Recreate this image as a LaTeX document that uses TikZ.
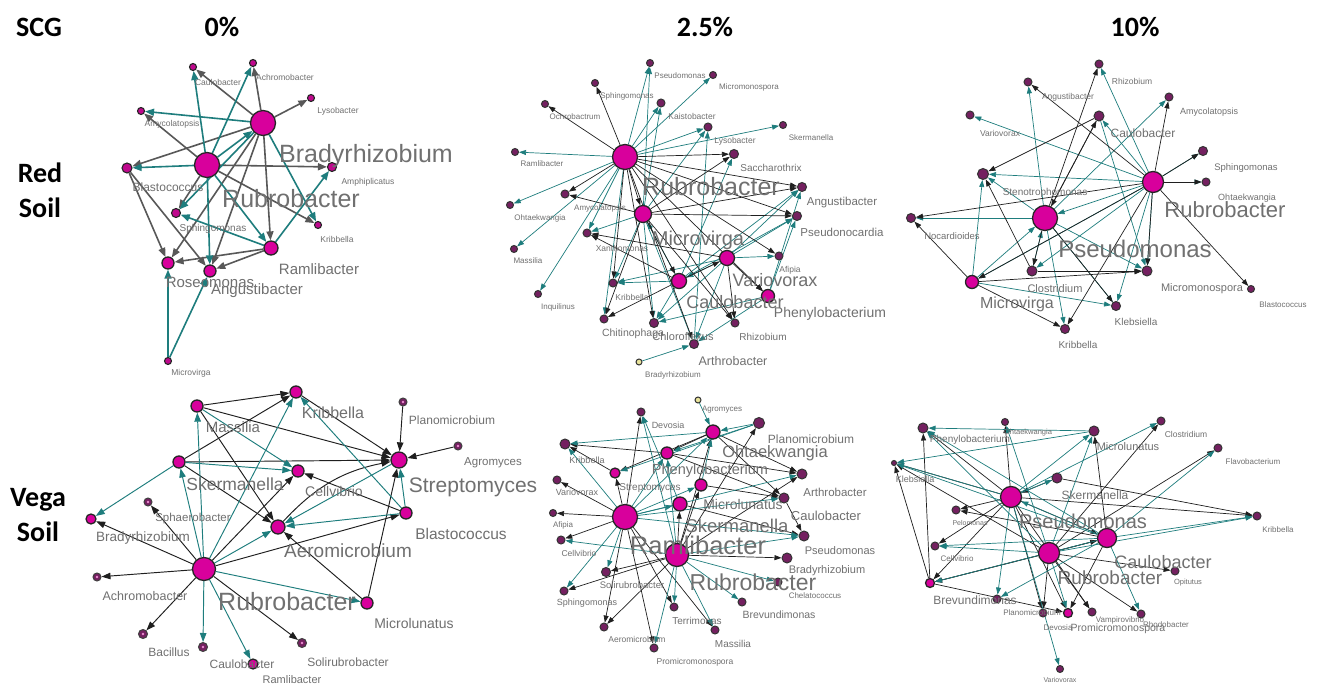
\documentclass[tikz,border=0pt]{standalone}
\usepackage{fontspec}
\setmainfont{Liberation Sans}
\newfontfamily\hdrfont{Carlito}
\usetikzlibrary{arrows.meta}
\definecolor{mag}{HTML}{D8009C}
\definecolor{plum}{HTML}{742060}
\definecolor{tealc}{HTML}{1E7D7D}
\definecolor{grayc}{HTML}{585858}
\definecolor{labc}{HTML}{707070}
\definecolor{yel}{HTML}{E8E39A}
\pgfdeclarelayer{bg}
\pgfdeclarelayer{edges}
\pgfsetlayers{bg,edges,main}
\tikzset{
 hub/.style={circle,fill=mag,draw=black!85,line width=1.3pt,inner sep=0pt},
 sm/.style={circle,fill=plum,draw=black!80,line width=1pt,inner sep=0pt},
 psm/.style={circle,fill=mag!75!plum,draw=black!85,line width=1.1pt,inner sep=0pt},
 ysm/.style={circle,fill=yel,draw=black!80,line width=1pt,inner sep=0pt},
 ring/.style={circle,fill=plum,draw=black!75,line width=1pt,inner sep=0pt,
   path picture={\fill[mag!45!white] (path picture bounding box.center) circle (1.3pt);}},
 lab/.style={text=labc,inner sep=0pt},
 hdr/.style={inner sep=0pt,font=\hdrfont\bfseries\fontsize{28}{35}\selectfont,text=black},
 eblk/.style={draw=black!88,line width=0.7pt,-{Triangle[length=7pt,width=5pt]}},
 etel/.style={draw=tealc,line width=0.7pt,-{Triangle[length=7pt,width=5pt]}},
 dblk/.style={draw=black!88,line width=0.95pt,-{Triangle[length=9pt,width=6.5pt]}},
 dtel/.style={draw=tealc,line width=0.95pt,-{Triangle[length=9pt,width=6.5pt]}},
 agray/.style={draw=grayc,line width=1.6pt,-{Triangle[length=9pt,width=7pt]}},
 ateal/.style={draw=tealc,line width=1.6pt,-{Triangle[length=9pt,width=7pt]}},
}
\newcommand{\mynd}[5]{\node[#4,minimum size=#5] (#1) at (#2,#3) {};}
\newcommand{\mylab}[5]{\node[lab,font=\fontsize{#4}{#4}\selectfont] (#1) at (#2,#3) {#5};}
\begin{document}
\begin{tikzpicture}[x=1pt,y=-1pt]
\begin{pgfonlayer}{bg}
\fill[white] (0,0) rectangle (1317,684);
\end{pgfonlayer}
\useasboundingbox (0,0) rectangle (1317,684);
% headers
\node[hdr] (hSCG) at (39,27) {SCG};
\node[hdr] (h0) at (222,27) {0\%};
\node[hdr] (h25) at (705,27) {2.5\%};
\node[hdr] (h10) at (1135,27) {10\%};
\node[hdr,align=center] (hRed) at (40,190) {Red\\Soil};
\node[hdr,align=center] (hVega) at (38,515) {Vega\\Soil};

% ================= Panel 1: Red 0%
\mynd{aR}{207}{165}{hub}{25pt}
\mynd{aB}{263}{123}{hub}{25pt}
\mynd{aCau}{193}{67}{psm}{7pt}
\mynd{aAch}{253}{63}{psm}{7pt}
\mynd{aLys}{311}{98}{psm}{7pt}
\mynd{aAmy}{141}{111}{psm}{7pt}
\mynd{aBla}{127}{168}{psm}{10pt}
\mynd{aAmp}{332}{167}{psm}{9pt}
\mynd{aSph}{176}{213}{psm}{9pt}
\mynd{aKri}{318}{225}{psm}{7pt}
\mynd{aRam}{271}{248}{hub}{14pt}
\mynd{aRos}{168}{263}{hub}{12pt}
\mynd{aAng}{210}{271}{hub}{12pt}
\mynd{aMic}{168}{361}{psm}{7pt}
\begin{pgfonlayer}{edges}
\foreach \s/\t in {aB/aCau,aB/aAch,aB/aLys,aB/aBla,aB/aRos,aB/aAng,aB/aRam,aR/aAmy,aR/aAmp,aR/aKri,aR/aSph,aBla/aRos,aBla/aAng,aRam/aRos,aRam/aAng}
  \draw[agray] (\s) -- (\t);
\foreach \s/\t in {aB/aAmy,aB/aSph,aB/aKri,aR/aB,aR/aCau,aR/aAch,aR/aBla,aR/aRam,aR/aAng,aRam/aAmp,aRam/aSph,aMic/aRos,aMic/aAng}
  \draw[ateal] (\s) -- (\t);
\end{pgfonlayer}
\mylab{laCau}{218}{82}{8.5}{Caulobacter}
\mylab{laAch}{285}{77}{8.5}{Achromobacter}
\mylab{laLys}{338}{111}{8.5}{Lysobacter}
\mylab{laAmy}{172}{124}{8.5}{Amycolatopsis}
\mylab{laB}{366}{156}{25}{Bradyrhizobium}
\mylab{laAmp}{368}{182}{8.5}{Amphiplicatus}
\mylab{laBla}{168}{187}{12}{Blastococcus}
\mylab{laR}{291}{199}{25}{Rubrobacter}
\mylab{laSph}{213}{229}{10}{Sphingomonas}
\mylab{laKri}{337}{239}{8.5}{Kribbella}
\mylab{laRam}{319}{269}{15}{Ramlibacter}
\mylab{laRos}{210}{282}{15}{Roseomonas}
\mylab{laAng}{257}{291}{15}{Angustibacter}
\mylab{laMic}{191}{373}{8.5}{Microvirga}

% ================= Panel 2: Red 2.5%
\mynd{bR}{625}{157}{hub}{25pt}
\mynd{bMv}{643}{214}{hub}{17pt}
\mynd{bVa}{727}{258}{hub}{15pt}
\mynd{bCa}{679}{281}{hub}{15pt}
\mynd{bPh}{768}{296}{hub}{13pt}
\mynd{bPse}{650}{63}{sm}{7pt}
\mynd{bMm}{713}{75}{sm}{7pt}
\mynd{bSph}{595}{83}{sm}{7pt}
\mynd{bKai}{661}{103}{sm}{8pt}
\mynd{bOch}{545}{104}{sm}{7pt}
\mynd{bLys}{708}{127}{sm}{8pt}
\mynd{bSke}{783}{125}{sm}{7pt}
\mynd{bRam}{515}{152}{sm}{7pt}
\mynd{bSac}{734}{154}{sm}{9pt}
\mynd{bAmy}{565}{194}{sm}{8pt}
\mynd{bAng}{802}{187}{sm}{9pt}
\mynd{bOht}{510}{205}{sm}{7pt}
\mynd{bPsn}{797}{216}{sm}{9pt}
\mynd{bXan}{587}{233}{sm}{8pt}
\mynd{bMas}{514}{249}{sm}{7pt}
\mynd{bAfi}{779}{256}{sm}{8pt}
\mynd{bKri}{613}{283}{sm}{8pt}
\mynd{bInq}{538}{294}{sm}{7pt}
\mynd{bChi}{604}{319}{sm}{8pt}
\mynd{bChl}{654}{323}{sm}{9pt}
\mynd{bRhi}{735}{323}{sm}{8pt}
\mynd{bArt}{694}{344}{sm}{9pt}
\mynd{bBra}{639}{362}{ysm}{6pt}
\begin{pgfonlayer}{edges}
\foreach \s/\t in {bR/bPse,bR/bMm,bR/bKai,bR/bLys,bR/bSke,bR/bRam,bR/bOht,bR/bMas,bR/bInq,bR/bXan,bR/bChi,bMv/bKai,bMv/bLys,bMv/bXan,bMv/bKri,bMv/bArt,bMv/bChl,bMv/bPse,bCa/bSac,bCa/bAng,bCa/bPsn,bCa/bKri,bCa/bChl,bCa/bMv,bVa/bAng,bVa/bPsn,bVa/bAfi,bVa/bKri,bVa/bChl,bVa/bArt,bVa/bCa,bPh/bAng,bPh/bPsn,bPh/bArt,bPh/bChl,bBra/bArt,bArt/bLys}
  \draw[etel] (\s) -- (\t);
\foreach \s/\t in {bR/bSph,bR/bOch,bR/bSac,bR/bAng,bR/bPsn,bR/bAfi,bR/bAmy,bR/bMv,bR/bKri,bR/bChl,bR/bRhi,bR/bArt,bMv/bSac,bMv/bAng,bMv/bPsn,bMv/bAmy,bMv/bChi,bMv/bRhi,bMv/bCa,bCa/bChi,bCa/bVa,bCa/bXan,bVa/bXan,bVa/bPh,bVa/bRhi,bR/bPh}
  \draw[eblk] (\s) -- (\t);
\end{pgfonlayer}
\mylab{lbPse}{680}{76}{8}{Pseudomonas}
\mylab{lbMm}{749}{87}{8}{Micromonospora}
\mylab{lbSph}{627}{96}{8}{Sphingomonas}
\mylab{lbOch}{575}{117}{8}{Ochrobactrum}
\mylab{lbKai}{692}{116}{8.5}{Kaistobacter}
\mylab{lbLys}{735}{141}{8.5}{Lysobacter}
\mylab{lbSke}{811}{138}{8}{Skermanella}
\mylab{lbRam}{542}{164}{8}{Ramlibacter}
\mylab{lbSac}{771}{168}{10}{Saccharothrix}
\mylab{lbR}{711}{187}{25}{Rubrobacter}
\mylab{lbAng}{842}{203}{11.5}{Angustibacter}
\mylab{lbAmy}{600}{208}{8}{Amycolatopsis}
\mylab{lbOht}{540}{218}{8}{Ohtaekwangia}
\mylab{lbPsn}{842}{232}{11.5}{Pseudonocardia}
\mylab{lbMv}{698}{240}{20}{Microvirga}
\mylab{lbXan}{622}{248}{8.5}{Xanthomonas}
\mylab{lbMas}{528}{261}{8}{Massilia}
\mylab{lbAfi}{790}{270}{8.5}{Afipia}
\mylab{lbVa}{775}{280}{18}{Variovorax}
\mylab{lbKri}{632}{297}{8.5}{Kribbella}
\mylab{lbInq}{558}{307}{8}{Inquilinus}
\mylab{lbCa}{735}{302}{18}{Caulobacter}
\mylab{lbPh}{830}{314}{14}{Phenylobacterium}
\mylab{lbChi}{633}{334}{10.5}{Chitinophaga}
\mylab{lbChl}{683}{337}{11}{Chloroflexus}
\mylab{lbRhi}{763}{337}{10}{Rhizobium}
\mylab{lbArt}{733}{361}{12.5}{Arthrobacter}
\mylab{lbBra}{673}{375}{8}{Bradyrhizobium}

% ================= Panel 3: Red 10%
\mynd{cR}{1153}{182}{hub}{21pt}
\mynd{cP}{1045}{218}{hub}{25pt}
\mynd{cRhi}{1099}{64}{sm}{8pt}
\mynd{cAng}{1028}{82}{sm}{8pt}
\mynd{cAmy}{1169}{97}{sm}{8pt}
\mynd{cVar}{970}{115}{sm}{8pt}
\mynd{cCau}{1099}{116}{sm}{10pt}
\mynd{cSph}{1203}{151}{sm}{9pt}
\mynd{cSte}{983}{174}{sm}{11pt}
\mynd{cOht}{1206}{182}{sm}{8pt}
\mynd{cNoc}{911}{218}{sm}{9pt}
\mynd{cClo}{1032}{271}{sm}{10pt}
\mynd{cMm}{1147}{271}{sm}{10pt}
\mynd{cMv}{972}{282}{hub}{13pt}
\mynd{cBla}{1251}{289}{sm}{7pt}
\mynd{cKle}{1116}{306}{sm}{9pt}
\mynd{cKri}{1065}{329}{sm}{9pt}
\begin{pgfonlayer}{edges}
\foreach \s/\t in {cR/cVar,cR/cRhi,cR/cSte,cR/cP,cR/cSph,cR/cOht,cR/cMm,cR/cKle,cR/cClo,cR/cMv,cR/cCau,cP/cAng,cP/cNoc,cP/cKri,cP/cKle,cP/cMm,cP/cAmy,cMv/cSte,cMv/cP,cMv/cKle,cCau/cMm,cClo/cP,cP/cSte}
  \draw[etel] (\s) -- (\t);
\foreach \s/\t in {cR/cAmy,cR/cAng,cR/cSph,cR/cMm,cR/cBla,cR/cKri,cR/cMv,cR/cNoc,cP/cRhi,cP/cCau,cP/cKle,cP/cClo,cCau/cSte,cCau/cP,cMv/cNoc,cMv/cKri,cMv/cMm,cClo/cSte,cClo/cMm,cR/cOht}
  \draw[eblk] (\s) -- (\t);
\end{pgfonlayer}
\mylab{lcRhi}{1132}{81}{8.5}{Rhizobium}
\mylab{lcAng}{1068}{97}{8.5}{Angustibacter}
\mylab{lcAmy}{1209}{112}{9}{Amycolatopsis}
\mylab{lcVar}{1000}{133}{8.5}{Variovorax}
\mylab{lcCau}{1143}{133}{12}{Caulobacter}
\mylab{lcSph}{1246}{168}{9.5}{Sphingomonas}
\mylab{lcSte}{1045}{193}{10}{Stenotrophomonas}
\mylab{lcOht}{1247}{198}{9}{Ohtaekwangia}
\mylab{lcR}{1225}{210}{22}{Rubrobacter}
\mylab{lcNoc}{952}{236}{9.5}{Nocardioides}
\mylab{lcP}{1135}{249}{24}{Pseudomonas}
\mylab{lcClo}{1055}{289}{11}{Clostridium}
\mylab{lcMm}{1202}{289}{11}{Micromonospora}
\mylab{lcMv}{1017}{304}{16}{Microvirga}
\mylab{lcBla}{1283}{305}{8}{Blastococcus}
\mylab{lcKle}{1136}{322}{10}{Klebsiella}
\mylab{lcKri}{1078}{345}{10}{Kribbella}

% ================= Panel 4: Vega 0%
\mynd{dR}{204}{569}{hub}{23pt}
\mynd{dKri}{296}{392}{hub}{12pt}
\mynd{dMas}{197}{406}{hub}{12pt}
\mynd{dPla}{403}{402}{ring}{8pt}
\mynd{dAgr}{458}{446}{ring}{8pt}
\mynd{dSke}{179}{462}{hub}{12pt}
\mynd{dStr}{399}{460}{hub}{16pt}
\mynd{dCel}{298}{471}{hub}{12pt}
\mynd{dSph}{148}{502}{ring}{8pt}
\mynd{dBra}{91}{519}{hub}{10pt}
\mynd{dBla}{406}{513}{hub}{12pt}
\mynd{dAer}{278}{527}{hub}{14pt}
\mynd{dAch}{97}{577}{ring}{8pt}
\mynd{dMcl}{367}{603}{hub}{12pt}
\mynd{dBac}{143}{634}{ring}{9pt}
\mynd{dCau}{203}{647}{ring}{9pt}
\mynd{dSol}{302}{643}{ring}{9pt}
\mynd{dRam}{253}{664}{hub}{10pt}
\begin{pgfonlayer}{edges}
\foreach \s/\t in {dR/dBra,dR/dSph,dR/dAch,dR/dBac,dR/dSol,dR/dBla,dR/dCel,dSke/dKri,dSke/dStr,dSke/dAer,dMas/dKri,dMas/dStr,dMas/dAer,dKri/dStr,dBla/dCel,dPla/dStr,dAgr/dStr,dMcl/dAer,dMcl/dStr}
  \draw[dblk] (\s) -- (\t);
\draw[dblk] (dAer) to[bend left=18] (dStr);
\foreach \s/\t in {dR/dCau,dR/dRam,dR/dMcl,dR/dAer,dR/dKri,dR/dSke,dR/dMas,dSke/dBra,dSke/dCel,dMas/dCel,dBla/dKri,dBla/dStr,dBla/dAer,dStr/dAer}
  \draw[dtel] (\s) -- (\t);
\end{pgfonlayer}
\mylab{ldKri}{333}{413}{16}{Kribbella}
\mylab{ldPla}{452}{420}{12}{Planomicrobium}
\mylab{ldMas}{233}{427}{15}{Massilia}
\mylab{ldAgr}{493}{463}{11.5}{Agromyces}
\mylab{ldStr}{473}{487}{21}{Streptomyces}
\mylab{ldSke}{235}{484}{17.5}{Skermanella}
\mylab{ldCel}{334}{491}{14}{Cellvibrio}
\mylab{ldSph}{193}{519}{11.5}{Sphaerobacter}
\mylab{ldBra}{143}{538}{13.5}{Bradyrhizobium}
\mylab{ldBla}{461}{534}{15.5}{Blastococcus}
\mylab{ldAer}{348}{551}{19}{Aeromicrobium}
\mylab{ldAch}{145}{596}{12.5}{Achromobacter}
\mylab{ldR}{287}{602}{25}{Rubrobacter}
\mylab{ldMcl}{414}{623}{14}{Microlunatus}
\mylab{ldBac}{169}{652}{12}{Bacillus}
\mylab{ldCau}{242}{664}{12}{Caulobacter}
\mylab{ldSol}{348}{662}{12}{Solirubrobacter}
\mylab{ldRam}{292}{680}{11}{Ramlibacter}

% ================= Panel 5: Vega 2.5%
\mynd{eRam}{625}{517}{hub}{25pt}
\mynd{eRub}{677}{555}{hub}{23pt}
\mynd{eSke}{680}{504}{hub}{14pt}
\mynd{eMcl}{701}{485}{hub}{12pt}
\mynd{ePhe}{667}{453}{hub}{12pt}
\mynd{eOht}{713}{432}{hub}{14pt}
\mynd{eAgr}{698}{400}{ysm}{6pt}
\mynd{eDev}{641}{412}{sm}{8pt}
\mynd{ePla}{759}{423}{sm}{11pt}
\mynd{eKri}{565}{444}{sm}{10pt}
\mynd{eStr}{615}{473}{hub}{10pt}
\mynd{eVar}{557}{480}{sm}{8pt}
\mynd{eArt}{802}{474}{sm}{10pt}
\mynd{eCau}{784}{498}{sm}{10pt}
\mynd{eAfi}{553}{513}{sm}{7pt}
\mynd{eCel}{561}{540}{sm}{8pt}
\mynd{ePse}{804}{536}{sm}{10pt}
\mynd{eBra}{787}{558}{sm}{10pt}
\mynd{eChe}{778}{582}{sm}{8pt}
\mynd{eSol}{606}{572}{sm}{9pt}
\mynd{eSph}{564}{591}{sm}{8pt}
\mynd{eBre}{742}{602}{sm}{8pt}
\mynd{eTer}{674}{607}{sm}{8pt}
\mynd{eAer}{604}{627}{sm}{8pt}
\mynd{eMas}{715}{630}{sm}{8pt}
\mynd{ePro}{654}{648}{sm}{8pt}
\begin{pgfonlayer}{edges}
\foreach \s/\t in {eRam/eVar,eRam/eAfi,eRam/eCel,eRam/eDev,eRam/eMas,eRam/eTer,eRam/ePro,eRam/eStr,eRub/eSol,eRub/eSph,eRub/eAer,eRub/eOht,eRub/ePla,eRub/eBra,eRub/eArt,eRub/eSke,eOht/ePhe,eOht/eArt,eOht/eCau,eOht/eStr,ePhe/eArt,ePhe/eCau,eStr/eKri,eCau/ePse,eSke/ePse,eMcl/eCau,eRub/eMcl,ePhe/eKri,eRam/eAer}
  \draw[eblk] (\s) -- (\t);
\foreach \s/\t in {eRam/eKri,eRam/eSph,eRam/eSol,eRam/eOht,eRam/ePhe,eRam/eMcl,eRam/eSke,eRam/eCau,eRam/ePse,eRam/eArt,eRub/eCel,eRub/eBre,eRub/eChe,eRub/eTer,eRub/eMas,eRub/ePro,eRub/ePhe,eRub/ePse,eAgr/eOht,ePla/eOht,ePla/ePhe,ePla/eStr,eMcl/eOht,eSke/eDev,eOht/eKri,eRub/eDev}
  \draw[etel] (\s) -- (\t);
\end{pgfonlayer}
\mylab{leAgr}{722}{410}{8}{Agromyces}
\mylab{leDev}{668}{425}{9}{Devosia}
\mylab{lePla}{811}{439}{12}{Planomicrobium}
\mylab{leOht}{775}{453}{16.5}{Ohtaekwangia}
\mylab{leKri}{587}{460}{9}{Kribbella}
\mylab{lePhe}{710}{471}{14.5}{Phenylobacterium}
\mylab{leStr}{650}{488}{10}{Streptomyces}
\mylab{leVar}{577}{492}{9}{Variovorax}
\mylab{leArt}{835}{492}{11.5}{Arthrobacter}
\mylab{leMcl}{743}{504}{14}{Microlunatus}
\mylab{leCau}{826}{516}{13}{Caulobacter}
\mylab{leAfi}{563}{525}{8}{Afipia}
\mylab{leSke}{737}{526}{18.5}{Skermanella}
\mylab{leRam}{698}{545}{25.5}{Ramlibacter}
\mylab{leCel}{579}{553}{8.5}{Cellvibrio}
\mylab{lePse}{840}{551}{11}{Pseudomonas}
\mylab{leRub}{753}{582}{23}{Rubrobacter}
\mylab{leBra}{827}{571}{11}{Bradyrhizobium}
\mylab{leChe}{815}{596}{8}{Chelatococcus}
\mylab{leSol}{632}{585}{9.5}{Solirubrobacter}
\mylab{leSph}{587}{603}{9}{Sphingomonas}
\mylab{leBre}{779}{615}{10.5}{Brevundimonas}
\mylab{leTer}{697}{621}{10}{Terrimonas}
\mylab{leAer}{637}{639}{8.5}{Aeromicrobium}
\mylab{leMas}{733}{644}{10}{Massilia}
\mylab{lePro}{695}{662}{8.5}{Promicromonospora}

% ================= Panel 6: Vega 10%
\mynd{fPse}{1011}{497}{hub}{21pt}
\mynd{fRub}{1049}{553}{hub}{21pt}
\mynd{fCau}{1107}{538}{hub}{19pt}
\mynd{fSke}{1057}{478}{sm}{10pt}
\mynd{fPhe}{923}{428}{sm}{10pt}
\mynd{fOht}{1005}{422}{sm}{7pt}
\mynd{fMcl}{1094}{431}{sm}{10pt}
\mynd{fClo}{1161}{421}{sm}{8pt}
\mynd{fFla}{1218}{448}{sm}{8pt}
\mynd{fKle}{894}{463}{sm}{5pt}
\mynd{fPel}{956}{510}{sm}{8pt}
\mynd{fKri}{1257}{516}{sm}{8pt}
\mynd{fCel}{935}{546}{sm}{8pt}
\mynd{fOpi}{1175}{571}{sm}{8pt}
\mynd{fBre}{930}{583}{hub}{9pt}
\mynd{fX}{997}{599}{sm}{8pt}
\mynd{fPla}{1043}{613}{sm}{8pt}
\mynd{fDev}{1068}{613}{hub}{9pt}
\mynd{fPro}{1092}{612}{sm}{8pt}
\mynd{fVam}{1141}{614}{sm}{8pt}
\mynd{fVar}{1060}{669}{sm}{7pt}
\begin{pgfonlayer}{edges}
\foreach \s/\t in {fPse/fPhe,fPse/fKle,fPse/fPel,fPse/fCel,fPse/fBre,fPse/fPla,fPse/fDev,fPse/fPro,fPse/fCau,fPse/fKri,fRub/fKle,fRub/fClo,fRub/fFla,fRub/fBre,fRub/fPla,fRub/fPro,fRub/fOpi,fRub/fVam,fRub/fCau,fCau/fBre,fCau/fDev,fCau/fPel,fCau/fMcl,fSke/fKri,fSke/fPse,fBre/fPhe,fBre/fKle,fBre/fDev,fPse/fOht}
  \draw[eblk] (\s) -- (\t);
\foreach \s/\t in {fPse/fMcl,fPse/fClo,fPse/fKle,fPse/fX,fPse/fVar,fPse/fSke,fRub/fPhe,fRub/fCel,fRub/fOht,fRub/fMcl,fRub/fDev,fRub/fKri,fCau/fKri,fCau/fCel,fCau/fPse,fCau/fX,fCau/fBre,fCau/fVam,fCau/fFla,fCau/fKle,fMcl/fPhe,fMcl/fKle,fCau/fPhe}
  \draw[etel] (\s) -- (\t);
\end{pgfonlayer}
\mylab{lfPhe}{970}{440}{10}{Phenylobacterium}
\mylab{lfOht}{1028}{433}{7.5}{Ohtaekwangia}
\mylab{lfMcl}{1128}{447}{11}{Microlunatus}
\mylab{lfClo}{1186}{434}{8.5}{Clostridium}
\mylab{lfFla}{1253}{462}{8}{Flavobacterium}
\mylab{lfKle}{915}{479}{9}{Klebsiella}
\mylab{lfSke}{1095}{495}{12}{Skermanella}
\mylab{lfPse}{1083}{521}{20}{Pseudomonas}
\mylab{lfKri}{1278}{530}{8}{Kribbella}
\mylab{lfPel}{970}{523}{7}{Pelomonas}
\mylab{lfCel}{957}{559}{8}{Cellvibrio}
\mylab{lfCau}{1163}{562}{18}{Caulobacter}
\mylab{lfRub}{1110}{578}{19}{Rubrobacter}
\mylab{lfOpi}{1188}{583}{7.5}{Opitutus}
\mylab{lfBre}{975}{600}{12}{Brevundimonas}
\mylab{lfPla}{1032}{613}{8}{Planomicrobium}
\mylab{lfDev}{1058}{628}{8}{Devosia}
\mylab{lfPro}{1118}{629}{10.5}{Promicromonospora}
\mylab{lfVam}{1120}{620}{8}{Vampirovibrio}
\mylab{lfRho}{1166}{625}{8}{Rhodobacter}
\mylab{lfVar}{1060}{680}{7}{Variovorax}
\end{tikzpicture}
\end{document}
